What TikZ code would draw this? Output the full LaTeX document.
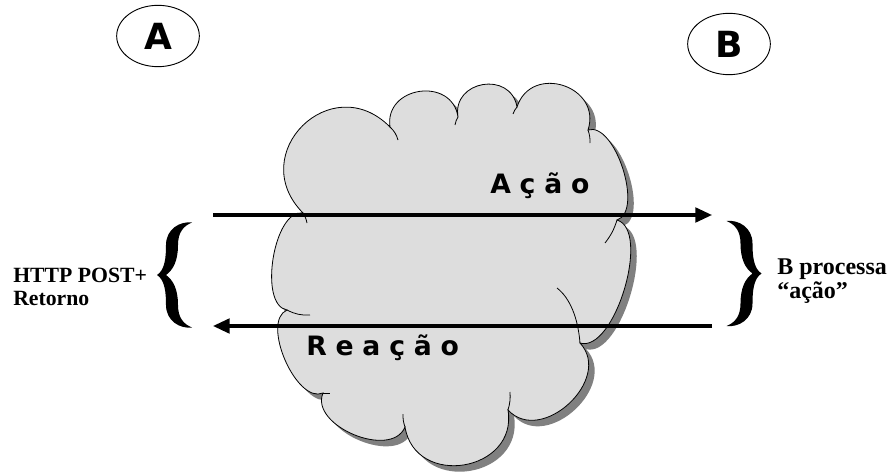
\documentclass[tikz,border=0pt]{standalone}
\usepackage{fontspec}
\setmainfont{Liberation Serif}
\newfontfamily\partyfont{DejaVu Sans}
\newfontfamily\spacedfont[LetterSpace=33]{DejaVu Sans}
\usetikzlibrary{calc,arrows.meta,shadows,shapes.geometric}
\definecolor{cloudgray}{HTML}{DDDDDD}
\definecolor{shadowgray}{HTML}{808080}

\begin{document}
\begin{tikzpicture}[x=0.75pt,y=-0.75pt,
  party/.style={ellipse, draw, line width=0.7pt, inner sep=0pt,
    minimum width=62pt, minimum height=46pt,
    font=\partyfont\bfseries\fontsize{27}{27}\selectfont},
  msg/.style={line width=2.3pt, -{Triangle[length=12.5pt,width=11pt]}},
  msglabel/.style={anchor=base west, inner sep=0pt,
    font=\spacedfont\bfseries\fontsize{20}{20}\selectfont},
  note/.style={anchor=base west, inner sep=0pt, font=\bfseries},
  cloudline/.style={draw=black, line width=0.6pt},
  tail/.style={draw=black, line width=0.6pt},
  % a curly brace drawn as a filled outline, point towards the left
  curlybrace/.pic={
    \fill (17,-52.5) .. controls (5,-54) and (-9,-46) .. (-9,-30)
      .. controls (-9,-18) and (-10,-5) .. (-18,0)
      .. controls (-10,5) and (-9,18) .. (-9,30)
      .. controls (-9,46) and (5,54) .. (17,52.5)
      .. controls (8,49) and (3,42) .. (3,30)
      .. controls (3,14) and (-2,5) .. (-9,0)
      .. controls (-2,-5) and (3,-14) .. (3,-30)
      .. controls (3,-42) and (8,-49) .. (17,-52.5) -- cycle;
  }
]
\useasboundingbox (0,0) rectangle (891,474);

% the two parties
\node[party] (A) at (158,36) {A};
\node[party] (B) at (729,44) {B};

% valley points between the lobes of the cloud
\coordinate (V1)  at (303,213);
\coordinate (V2)  at (390,127);
\coordinate (V3)  at (458,117);
\coordinate (V4)  at (517,107);
\coordinate (V5)  at (588,130);
\coordinate (V6)  at (617,220);
\coordinate (V7)  at (580,343);
\coordinate (V8)  at (508,410);
\coordinate (V9)  at (405,427);
\coordinate (V10) at (323,393);
\coordinate (V11) at (287,310);

% the cloud, with its offset shadow
\path[cloudline, fill=cloudgray,
      drop shadow={shadow xshift=4.5pt, shadow yshift=-4.5pt,
                   fill=shadowgray, opacity=1}]
  (V1)  .. controls ($(V1)!0.68!90:(V2)$)   and ($(V2)!0.68!-90:(V1)$)   .. (V2)
        .. controls ($(V2)!0.60!90:(V3)$)   and ($(V3)!0.60!-90:(V2)$)   .. (V3)
        .. controls ($(V3)!0.62!90:(V4)$)   and ($(V4)!0.62!-90:(V3)$)   .. (V4)
        .. controls ($(V4)!0.62!90:(V5)$)   and ($(V5)!0.62!-90:(V4)$)   .. (V5)
        .. controls ($(V5)!0.30!90:(V6)$)   and ($(V6)!0.30!-90:(V5)$)   .. (V6)
        .. controls ($(V6)!0.28!90:(V7)$)   and ($(V7)!0.28!-90:(V6)$)   .. (V7)
        .. controls ($(V7)!0.50!90:(V8)$)   and ($(V8)!0.50!-90:(V7)$)   .. (V8)
        .. controls ($(V8)!0.60!90:(V9)$)   and ($(V9)!0.60!-90:(V8)$)   .. (V9)
        .. controls ($(V9)!0.40!90:(V10)$)  and ($(V10)!0.40!-90:(V9)$)  .. (V10)
        .. controls ($(V10)!0.32!90:(V11)$) and ($(V11)!0.32!-90:(V10)$) .. (V11)
        .. controls ($(V11)!0.30!90:(V1)$)  and ($(V1)!0.30!-90:(V11)$)  .. (V1)
  -- cycle;

% short inner strokes where the lobes overlap
\draw[tail] (V1)  to[bend left=10] (307,223);
\draw[tail] (V2)  to[bend left=15] (398,140);
\draw[tail] (V3)  to[bend right=10] (455,125);
\draw[tail] (V4)  to[bend right=10] (513,114);
\draw[tail] (V5)  to[bend left=10] (590,143);
\draw[tail] (V6)  to[bend left=10] (605,243);
\draw[tail] (V7)  .. controls (578,318) and (570,298) .. (557,288);
\draw[tail] (V8)  to[bend right=10] (510,392);
\draw[tail] (V9)  to[bend left=10] (403,414);
\draw[tail] (V10) to[bend left=10] (330,393);
\draw[tail] (V11) to[bend right=15] (310,315);

% request and response
\coordinate (reqStart) at (213,215);
\coordinate (reqEnd)   at (712,215);
\coordinate (resStart) at (712,326);
\coordinate (resEnd)   at (213,326);
\draw[msg] (reqStart) -- (reqEnd);
\draw[msg] (resStart) -- (resEnd);

\node[msglabel] (acao)   at (490,193) {Ação};
\node[msglabel] (reacao) at (306,355) {Reação};

% braces and side notes
\pic (lbrace) at (175,275) {curlybrace};
\pic[xscale=-1] (rbrace) at (743.5,273.5) {curlybrace};

\node[note, font=\bfseries\fontsize{16.3}{16.3}\selectfont] (post1) at (13,282) {HTTP POST+};
\node[note, font=\bfseries\fontsize{16.3}{16.3}\selectfont] (post2) at (13,305) {Retorno};
\node[note, font=\bfseries\fontsize{18}{18}\selectfont] (proc1) at (777,274) {B processa};
\node[note, font=\bfseries\fontsize{18}{18}\selectfont] (proc2) at (777,298) {“ação”};
\end{tikzpicture}
\end{document}
